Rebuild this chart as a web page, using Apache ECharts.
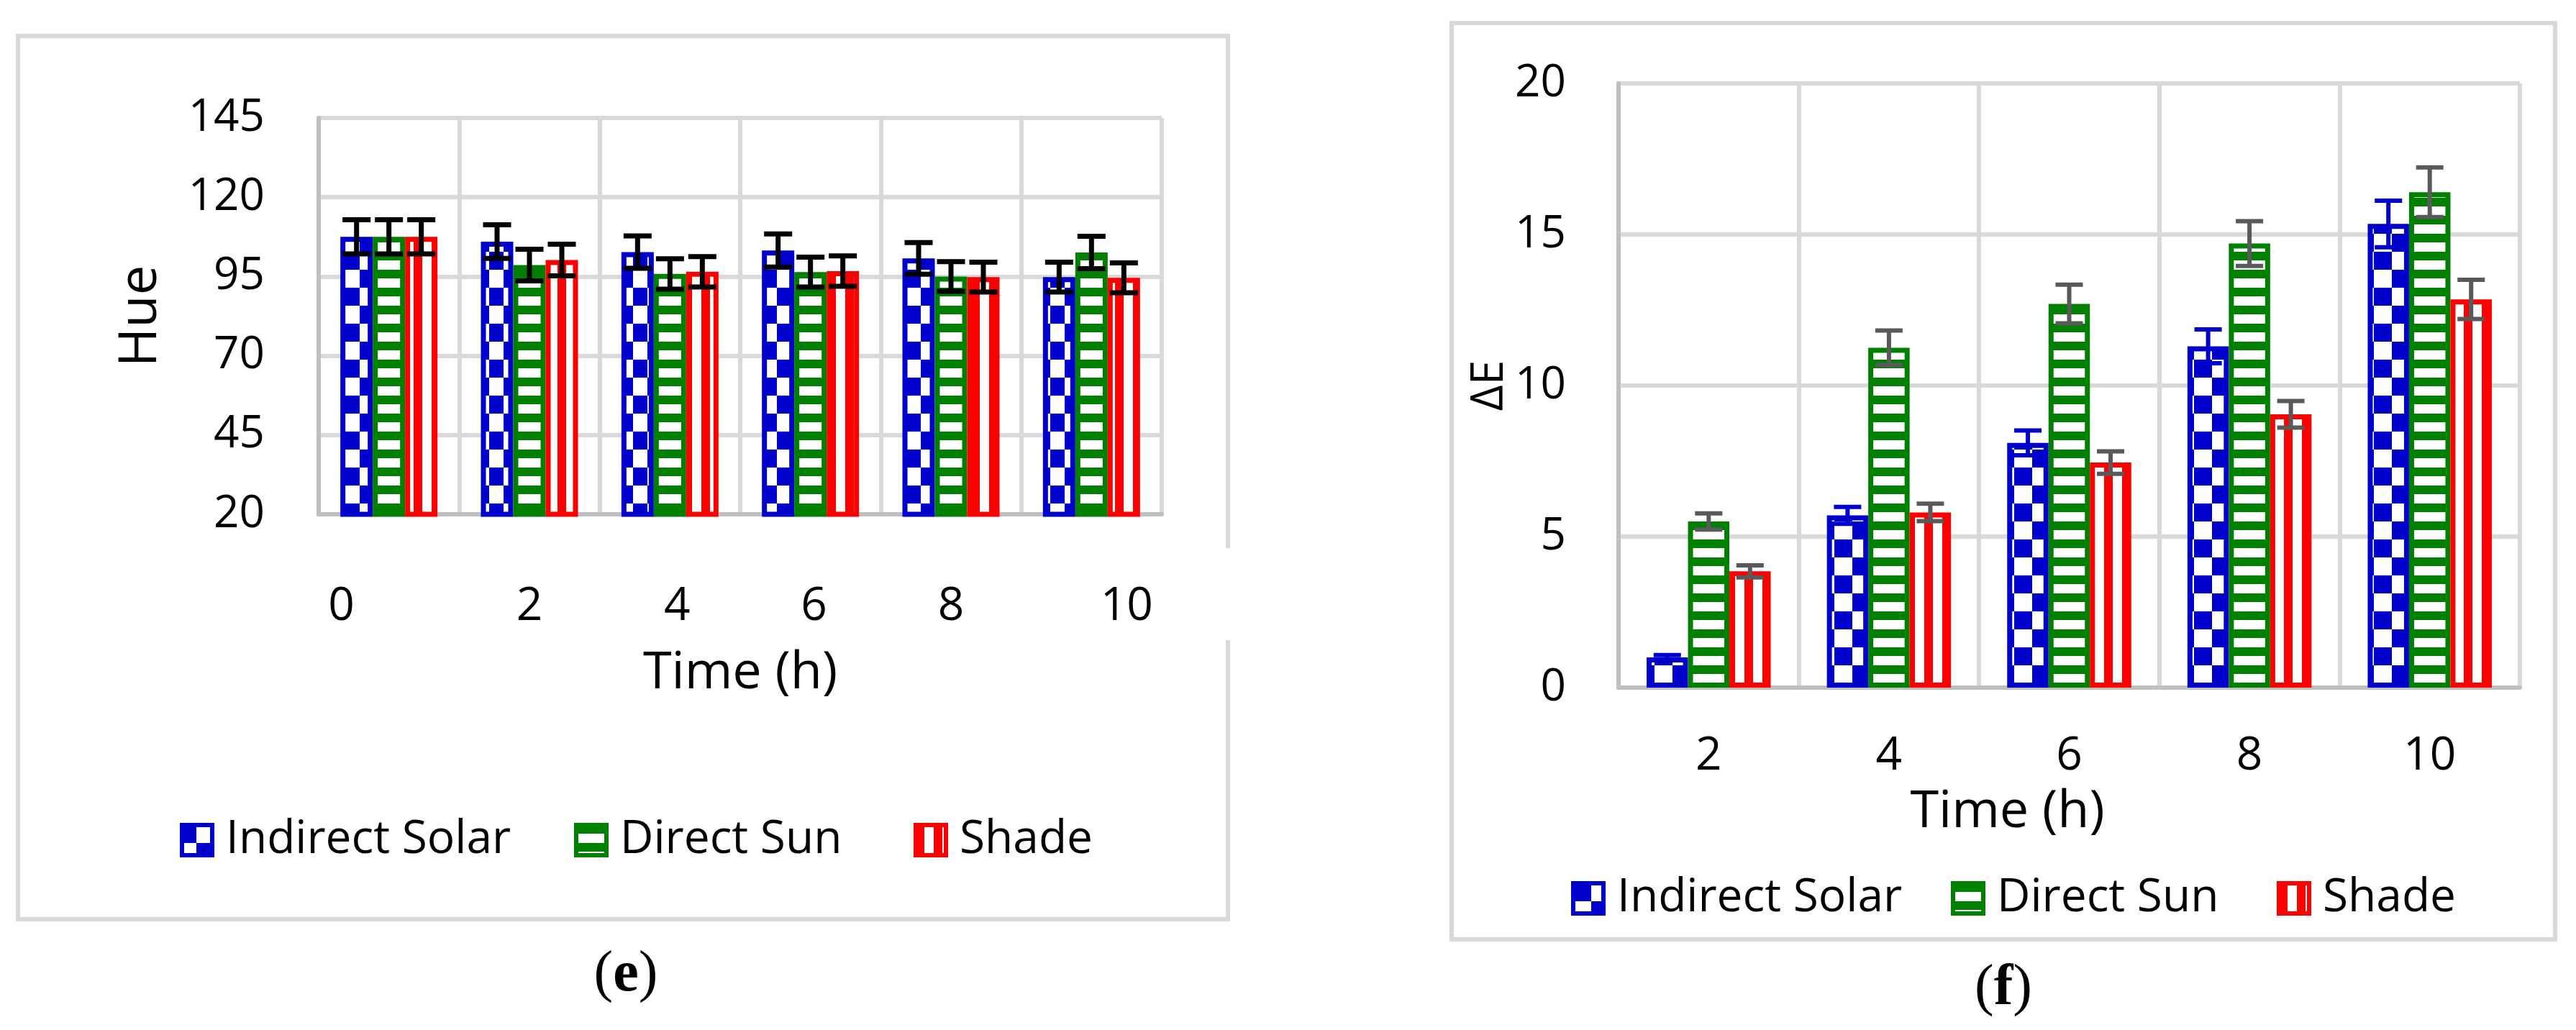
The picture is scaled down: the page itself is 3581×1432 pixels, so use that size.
<!DOCTYPE html>
<html><head><meta charset="utf-8">
<script src="https://cdn.jsdelivr.net/npm/echarts@6/dist/echarts.min.js"></script>
<style>html,body{margin:0;padding:0;background:#fff}#c{width:3581px;height:1432px}</style>
</head><body><div id="c"></div>
<script>
// ---- Panel (e): Hue ----
const timesE = ['0', '2', '4', '6', '8', '10'];
const hueIndirect = [107.5, 106.0, 102.7, 103.2, 100.7, 94.8];
const hueDirect   = [107.5, 98.6, 95.8, 96.4, 95.0, 102.6];
const hueShade    = [107.5, 100.2, 96.5, 96.7, 94.8, 94.6];
const hueIndirectErr = [5.4, 5.3, 5.1, 5.2, 5.0, 4.7];
const hueDirectErr   = [5.4, 5.0, 4.8, 4.7, 4.7, 5.1];
const hueShadeErr    = [5.4, 5.0, 4.8, 4.8, 4.7, 4.7];
const hueMin = 20, hueMax = 145, hueStep = 25;

// ---- Panel (f): ΔE ----
const timesF = ['2', '4', '6', '8', '10'];
const deIndirect = [1.0, 5.7, 8.1, 11.3, 15.35];
const deDirect   = [5.5, 11.25, 12.7, 14.7, 16.4];
const deShade    = [3.85, 5.8, 7.45, 9.05, 12.85];
const deIndirectErr = [0.08, 0.28, 0.41, 0.56, 0.77];
const deDirectErr   = [0.27, 0.57, 0.64, 0.74, 0.82];
const deShadeErr    = [0.2, 0.29, 0.37, 0.44, 0.65];
const deMin = 0, deMax = 20, deStep = 5;

const seriesNames = ['Indirect Solar', 'Direct Sun', 'Shade'];

const BLUE = '#0000CC', GREEN = '#008000', RED = '#FF0000';
const FONT = '"Open Sans", "Noto Sans", sans-serif';

function pattern(kind, color, a, b) {
  const cv = document.createElement('canvas');
  const ctx = cv.getContext('2d');
  if (kind === 'checker') {
    cv.width = 2 * a; cv.height = 2 * b;
    ctx.fillStyle = '#fff'; ctx.fillRect(0, 0, cv.width, cv.height);
    ctx.fillStyle = color;
    ctx.fillRect(0, 0, a, b); ctx.fillRect(a, b, a, b);
  } else if (kind === 'h') {
    cv.width = 10; cv.height = a;
    ctx.fillStyle = '#fff'; ctx.fillRect(0, 0, 10, a);
    ctx.fillStyle = color; ctx.fillRect(0, 0, 10, b);
  } else {
    cv.width = a; cv.height = 10;
    ctx.fillStyle = '#fff'; ctx.fillRect(0, 0, a, 10);
    ctx.fillStyle = color; ctx.fillRect(0, 0, b, 10);
  }
  return { image: cv, repeat: 'repeat' };
}

const patE = [pattern('checker', BLUE, 20, 25), pattern('h', GREEN, 25, 12), pattern('v', RED, 25, 12)];
const patF = [pattern('checker', BLUE, 25, 25), pattern('h', GREEN, 25, 12), pattern('v', RED, 25, 12)];
const colors = [BLUE, GREEN, RED];

function barSeries(name, xi, vals, pat, color, bw) {
  return {
    type: 'bar', name: name, xAxisIndex: xi, yAxisIndex: xi,
    data: vals, barWidth: bw, barGap: '0%',
    itemStyle: { color: pat, borderColor: color, borderWidth: 7 },
    emphasis: { disabled: true }, z: 2
  };
}

function errSeries(name, xi, vals, errs, slot, bw, color, lw, capW) {
  return {
    type: 'custom', name: name + ' error', xAxisIndex: xi, yAxisIndex: xi, z: 5,
    data: vals.map((v, i) => [i, v, errs[i]]),
    renderItem: function (params, api) {
      const c = api.value(0), v = api.value(1), e = api.value(2);
      const top = api.coord([c, v + e]);
      const bot = api.coord([c, v - e]);
      const x = top[0] + slot * bw;
      const st = { stroke: color, lineWidth: lw };
      return { type: 'group', children: [
        { type: 'line', shape: { x1: x, y1: top[1], x2: x, y2: bot[1] }, style: st },
        { type: 'line', shape: { x1: x - capW / 2, y1: top[1], x2: x + capW / 2, y2: top[1] }, style: st },
        { type: 'line', shape: { x1: x - capW / 2, y1: bot[1], x2: x + capW / 2, y2: bot[1] }, style: st }
      ]};
    }
  };
}

const BW_E = 45, BW_F = 57.5;
const valsE = [hueIndirect, hueDirect, hueShade], errsE = [hueIndirectErr, hueDirectErr, hueShadeErr];
const valsF = [deIndirect, deDirect, deShade], errsF = [deIndirectErr, deDirectErr, deShadeErr];

const series = [];
seriesNames.forEach((n, k) => series.push(barSeries(n, 0, valsE[k], patE[k], colors[k], BW_E)));
seriesNames.forEach((n, k) => series.push(barSeries(n, 1, valsF[k], patF[k], colors[k], BW_F)));
seriesNames.forEach((n, k) => series.push(errSeries(n + ' e', 0, valsE[k], errsE[k], k - 1, BW_E, '#000000', 7, 39)));
const errColF = [BLUE, '#595959', '#595959'];
seriesNames.forEach((n, k) => series.push(errSeries(n + ' f', 1, valsF[k], errsF[k], k - 1, BW_F, errColF[k], 6, 38)));

const labelOffsetsE = { '0': [0, 132, 0, 0], '2': [0, 0, 0, 0], '4': [0, 0, 0, 20], '6': [0, 0, 0, 10], '8': [0, 0, 0, 0], '10': [0, 0, 0, 98] };
const richE = {};
timesE.forEach((t, i) => { richE['t' + i] = { fontSize: 64, fontFamily: FONT, color: '#000', padding: labelOffsetsE[t] }; });

function legendItem(name, k, left, top, pats) {
  return {
    data: [{ name: name, itemStyle: { color: pats[k], borderColor: colors[k], borderWidth: 6 } }],
    left: left, top: top, padding: 0, icon: 'rect',
    itemWidth: 42, itemHeight: 42, selectedMode: false,
    textStyle: { fontSize: 64, fontFamily: FONT, color: '#000', padding: [0, 0, 0, 14] }
  };
}

const gridLine = { show: true, lineStyle: { color: '#d9d9d9', width: 6 } };
const axisLineStyle = { show: true, onZero: false, lineStyle: { color: '#bfbfbf', width: 6 } };
const capRich = {
  p: { fontSize: 80, fontFamily: '"Liberation Serif", serif', fill: '#000' },
  b: { fontSize: 80, fontWeight: 'bold', fontFamily: '"Liberation Serif", serif', fill: '#000' }
};

const option = {
  animation: false,
  backgroundColor: '#ffffff',
  grid: [
    { left: 443, top: 164, width: 1172, height: 551 },
    { left: 2250, top: 116, width: 1253, height: 840 }
  ],
  xAxis: [
    { type: 'category', gridIndex: 0, data: timesE,
      axisLine: axisLineStyle, axisTick: { show: false }, splitLine: gridLine,
      axisLabel: { margin: 97, interval: 0, formatter: (v) => '{t' + timesE.indexOf(v) + '|' + v + '}', rich: richE },
      name: 'Time (h)', nameLocation: 'middle', nameGap: 185,
      nameTextStyle: { fontSize: 72, fontFamily: FONT, color: '#000' } },
    { type: 'category', gridIndex: 1, data: timesF,
      axisLine: axisLineStyle, axisTick: { show: false }, splitLine: gridLine,
      axisLabel: { margin: 64, interval: 0, fontSize: 64, fontFamily: FONT, color: '#000' },
      name: 'Time (h)', nameLocation: 'middle', nameGap: 137,
      nameTextStyle: { fontSize: 72, fontFamily: FONT, color: '#000', padding: [0, 172, 0, 0] } }
  ],
  yAxis: [
    { type: 'value', gridIndex: 0, min: hueMin, max: hueMax, interval: hueStep,
      axisLine: axisLineStyle, axisTick: { show: false }, splitLine: gridLine,
      axisLabel: { margin: 75, fontSize: 62, fontFamily: FONT, color: '#000' },
      name: 'Hue', nameLocation: 'middle', nameRotate: 90, nameGap: 210,
      nameTextStyle: { fontSize: 74, fontFamily: FONT, color: '#000' } },
    { type: 'value', gridIndex: 1, min: deMin, max: deMax, interval: deStep,
      axisLine: axisLineStyle, axisTick: { show: false }, splitLine: gridLine,
      axisLabel: { margin: 73, fontSize: 62, fontFamily: FONT, color: '#000' },
      name: 'ΔE', nameLocation: 'middle', nameRotate: 90, nameGap: 133,
      nameTextStyle: { fontSize: 62, fontFamily: FONT, color: '#000' } }
  ],
  legend: [
    legendItem(seriesNames[0], 0, 250, 1136, patE),
    legendItem(seriesNames[1], 1, 798, 1136, patE),
    legendItem(seriesNames[2], 2, 1270, 1136, patE),
    legendItem(seriesNames[0], 0, 2184, 1217, patF),
    legendItem(seriesNames[1], 1, 2712, 1217, patF),
    legendItem(seriesNames[2], 2, 3165, 1217, patF)
  ],
  graphic: [
    { type: 'rect', shape: { x: 25, y: 50, width: 1682, height: 1228 }, style: { fill: 'none', stroke: '#d9d9d9', lineWidth: 6 }, z: -10 },
    { type: 'rect', shape: { x: 1700, y: 762, width: 14, height: 128 }, style: { fill: '#fff' }, z: -9 },
    { type: 'rect', shape: { x: 2018, y: 32, width: 1534, height: 1274 }, style: { fill: 'none', stroke: '#d9d9d9', lineWidth: 6 }, z: -10 },
    { type: 'text', x: 870, y: 1356, style: { text: '{p|(}{b|e}{p|)}', align: 'center', verticalAlign: 'middle', rich: capRich } },
    { type: 'text', x: 2785, y: 1375, style: { text: '{p|(}{b|f}{p|)}', align: 'center', verticalAlign: 'middle', rich: capRich } }
  ],
  series: series
};

const chart = echarts.init(document.getElementById('c'), null, { renderer: 'canvas', width: 3581, height: 1432 });
chart.setOption(option);
</script>
</body></html>
